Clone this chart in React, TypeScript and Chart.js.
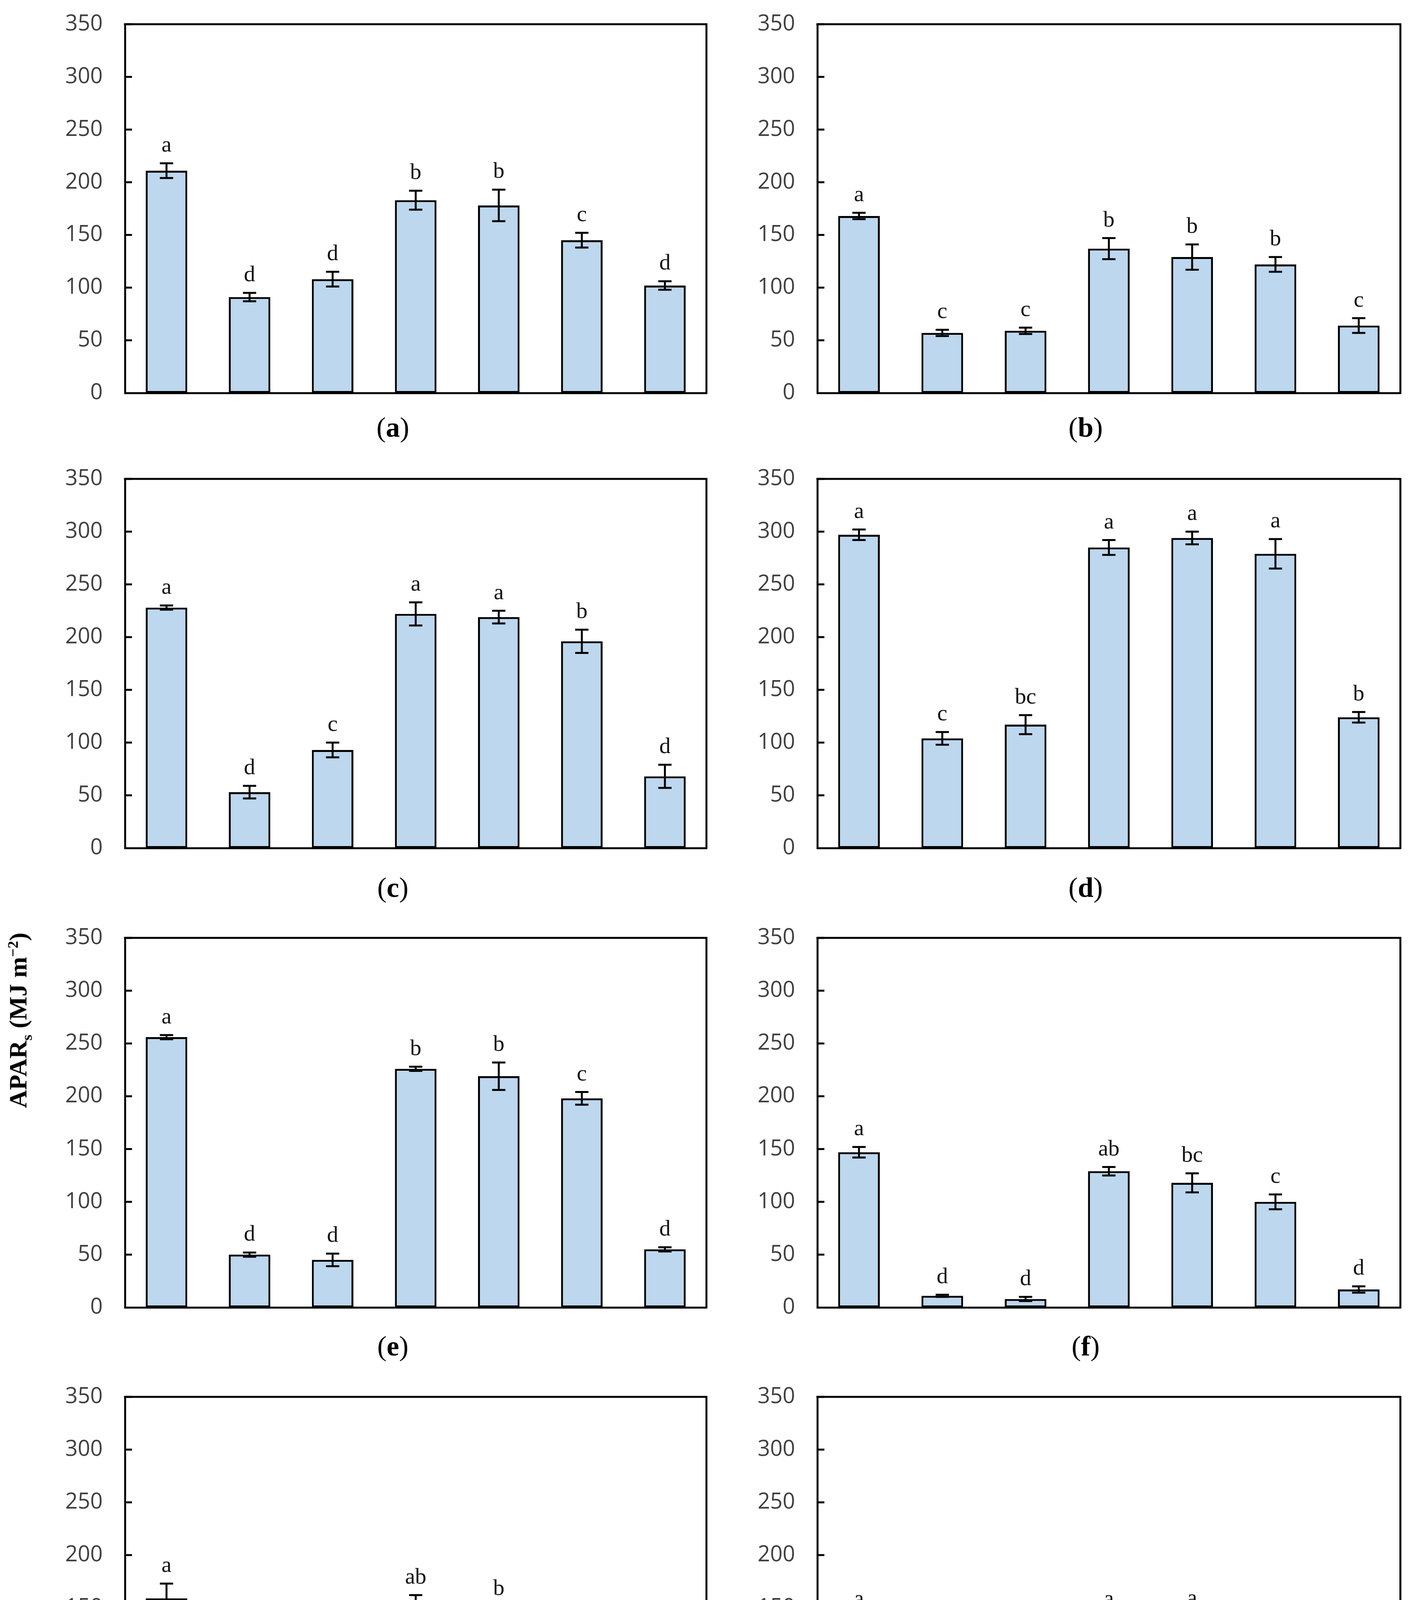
import { useEffect, useRef } from 'react';
import { Chart, registerables } from 'chart.js';

Chart.register(...registerables);

// ---- data ----
const categories = ['AA', 'TFc', 'TFm', 'AA-TFm', 'AA-TFc-TFm', 'AA-TFc', 'TFc-TFm'];
const groups = ['Monocultures', 'Mixtures'];
const groupSizes = [3, 4];
const yTicks = [0, 50, 100, 150, 200, 250, 300, 350];
const panelTags = ['a', 'b', 'c', 'd', 'e', 'f', 'g', 'h'];

const meanA = [211, 91, 108, 183, 178, 145, 102];
const errA = [7, 4, 7, 9, 15, 7, 4];
const lettersA = ['a', 'd', 'd', 'b', 'b', 'c', 'd'];

const meanB = [168, 57, 59, 137, 129, 122, 64];
const errB = [3, 3, 3, 10, 12, 7, 7];
const lettersB = ['a', 'c', 'c', 'b', 'b', 'b', 'c'];

const meanC = [228, 53, 93, 222, 219, 196, 68];
const errC = [2, 6, 7, 11, 6, 11, 11];
const lettersC = ['a', 'd', 'c', 'a', 'a', 'b', 'd'];

const meanD = [297, 104, 117, 285, 294, 279, 124];
const errD = [5, 6, 9, 7, 6, 14, 5];
const lettersD = ['a', 'c', 'bc', 'a', 'a', 'a', 'b'];

const meanE = [256, 50, 45, 226, 219, 198, 55];
const errE = [2, 2, 6, 2, 13, 6, 2];
const lettersE = ['a', 'd', 'd', 'b', 'b', 'c', 'd'];

const meanF = [147, 11, 8, 129, 118, 100, 17];
const errF = [5, 1, 2, 4, 9, 7, 3];
const lettersF = ['a', 'd', 'd', 'ab', 'bc', 'c', 'd'];

const meanG = [159, 32, 27, 147, 137, 114, 36];
const errG = [14, 2, 2, 15, 14, 10, 4];
const lettersG = ['a', 'd', 'd', 'ab', 'b', 'c', 'd'];

const meanH = [135, 52, 56, 138, 137, 129, 64];
const errH = [6, 2, 3, 3, 5, 4, 2];
const lettersH = ['a', 'b', 'b', 'a', 'a', 'a', 'b'];

const panels = [
  { mean: meanA, err: errA, letters: lettersA },
  { mean: meanB, err: errB, letters: lettersB },
  { mean: meanC, err: errC, letters: lettersC },
  { mean: meanD, err: errD, letters: lettersD },
  { mean: meanE, err: errE, letters: lettersE },
  { mean: meanF, err: errF, letters: lettersF },
  { mean: meanG, err: errG, letters: lettersG },
  { mean: meanH, err: errH, letters: lettersH },
];

// ---- layout (page pixels) ----
const COL_LEFT = [320, 2093];
const COL_RIGHT = [1809, 3586];
const ROW_TOP = [62, 1226, 2401, 3576];
const ROW_BOTTOM = [1006, 2171, 3347, 4521];
const TAG_X = [1006, 2780];
const TAG_Y = [1094, 2272, 3446, 5176];
const AXIS_W = 230;
const PAD_TOP = 50;
const PAD_RIGHT = 20;
const LINE = 5;

const SERIF = '"Liberation Serif", "Times New Roman", serif';
const SANS = '"Open Sans", "Noto Sans", sans-serif';

function Panel({ index }) {
  const ref = useRef(null);
  const col = index % 2;
  const row = Math.floor(index / 2);
  const last = row === 3;
  const xh = last ? 560 : 50;
  const left = COL_LEFT[col] - AXIS_W;
  const top = ROW_TOP[row] - PAD_TOP;
  const width = COL_RIGHT[col] - left + PAD_RIGHT;
  const height = ROW_BOTTOM[row] - top + xh;
  const { mean, err, letters } = panels[index];

  useEffect(() => {
    const decor = {
      id: 'decor',
      afterDatasetsDraw(chart) {
        const ctx = chart.ctx;
        const y = chart.scales.y;
        const meta = chart.getDatasetMeta(0);
        ctx.save();
        ctx.strokeStyle = '#000';
        ctx.lineWidth = LINE;
        meta.data.forEach((bar, i) => {
          const hi = y.getPixelForValue(mean[i] + err[i]);
          const lo = y.getPixelForValue(mean[i] - err[i]);
          ctx.beginPath();
          ctx.moveTo(bar.x, hi);
          ctx.lineTo(bar.x, lo);
          ctx.moveTo(bar.x - 17, hi);
          ctx.lineTo(bar.x + 17, hi);
          ctx.moveTo(bar.x - 17, lo);
          ctx.lineTo(bar.x + 17, lo);
          ctx.stroke();
          ctx.fillStyle = '#111';
          ctx.font = `58px ${SERIF}`;
          ctx.textAlign = 'center';
          ctx.textBaseline = 'alphabetic';
          ctx.fillText(letters[i], bar.x, hi - 30);
        });
        ctx.restore();
      },
      afterDraw(chart) {
        const ctx = chart.ctx;
        const a = chart.chartArea;
        const y = chart.scales.y;
        const x = chart.scales.x;
        ctx.save();
        ctx.strokeStyle = '#000';
        ctx.lineWidth = LINE;
        ctx.lineCap = 'square';
        ctx.beginPath();
        ctx.moveTo(a.left, a.top);
        ctx.lineTo(a.right, a.top);
        ctx.lineTo(a.right, a.bottom);
        ctx.stroke();
        ctx.lineCap = 'butt';
        yTicks.forEach((v) => {
          if (v === 0) return;
          const py = y.getPixelForValue(v);
          ctx.beginPath();
          ctx.moveTo(a.left, py);
          ctx.lineTo(a.left + 18, py);
          ctx.stroke();
        });
        if (last) {
          const depth = 529;
          const splits = [a.left];
          let start = 0;
          groupSizes.forEach((n, g) => {
            const end = start + n - 1;
            const cx = (x.getPixelForTick(start) + x.getPixelForTick(end)) / 2;
            ctx.fillStyle = '#111';
            ctx.font = `64px ${SERIF}`;
            ctx.textAlign = 'center';
            ctx.textBaseline = 'alphabetic';
            ctx.fillText(groups[g], cx, a.bottom + 504);
            if (g < groupSizes.length - 1) {
              splits.push((x.getPixelForTick(end) + x.getPixelForTick(end + 1)) / 2);
            }
            start += n;
          });
          splits.push(a.right);
          splits.forEach((sx) => {
            ctx.beginPath();
            ctx.moveTo(sx, a.bottom);
            ctx.lineTo(sx, a.bottom + depth);
            ctx.stroke();
          });
        }
        ctx.restore();
      },
    };

    const chart = new Chart(ref.current, {
      type: 'bar',
      data: {
        labels: categories,
        datasets: [
          {
            data: mean,
            backgroundColor: '#BDD7EE',
            borderColor: '#000',
            borderWidth: LINE,
            borderSkipped: false,
            barPercentage: 0.5,
            categoryPercentage: 1.0,
          },
        ],
      },
      options: {
        responsive: false,
        animation: false,
        layout: { padding: { top: PAD_TOP, right: PAD_RIGHT, left: 0, bottom: 0 } },
        plugins: {
          legend: { display: false },
          tooltip: { enabled: false },
        },
        scales: {
          x: {
            grid: { display: false, drawTicks: true, tickLength: 46 },
            border: { display: true, color: '#000', width: LINE },
            ticks: {
              display: last,
              autoSkip: false,
              minRotation: 90,
              maxRotation: 90,
              padding: 0,
              color: '#111',
              font: { family: SERIF, size: 62 },
            },
            afterFit: (axis) => {
              axis.height = xh;
            },
          },
          y: {
            min: 0,
            max: 350,
            grid: { display: false, drawTicks: true, tickLength: 57 },
            border: { display: true, color: '#000', width: LINE },
            afterBuildTicks: (axis) => {
              axis.ticks = yTicks.map((v) => ({ value: v }));
            },
            ticks: {
              padding: 0,
              color: '#404040',
              font: { family: SANS, size: 56 },
            },
            afterFit: (axis) => {
              axis.width = AXIS_W;
            },
          },
        },
      },
      plugins: [decor],
    });

    return () => {
      chart.destroy();
    };
  }, [index]);

  return (
    <canvas
      ref={ref}
      width={width}
      height={height}
      style={{ position: 'absolute', left, top, width, height }}
    />
  );
}

export default function App() {
  return (
    <div
      style={{
        position: 'absolute',
        left: 0,
        top: 0,
        width: 3626,
        height: 5234,
        background: '#fff',
        overflow: 'hidden',
      }}
    >
      {panelTags.map((t, i) => (
        <Panel key={t} index={i} />
      ))}
      {panelTags.map((t, i) => (
        <div
          key={'tag' + t}
          style={{
            position: 'absolute',
            left: TAG_X[i % 2],
            top: TAG_Y[Math.floor(i / 2)],
            transform: 'translate(-50%, -50%)',
            font: `72px ${SERIF}`,
            lineHeight: 1,
            whiteSpace: 'nowrap',
            color: '#000',
          }}
        >
          (<b>{t}</b>)
        </div>
      ))}
      <div
        style={{
          position: 'absolute',
          left: 51,
          top: 2612,
          transform: 'translate(-50%, -50%) rotate(-90deg)',
          font: `bold 64px ${SERIF}`,
          lineHeight: 1,
          whiteSpace: 'nowrap',
          color: '#000',
        }}
      >
        APAR<sub style={{ fontSize: '0.6em' }}>s</sub> (MJ m<sup style={{ fontSize: '0.6em' }}>−2</sup>)
      </div>
    </div>
  );
}
